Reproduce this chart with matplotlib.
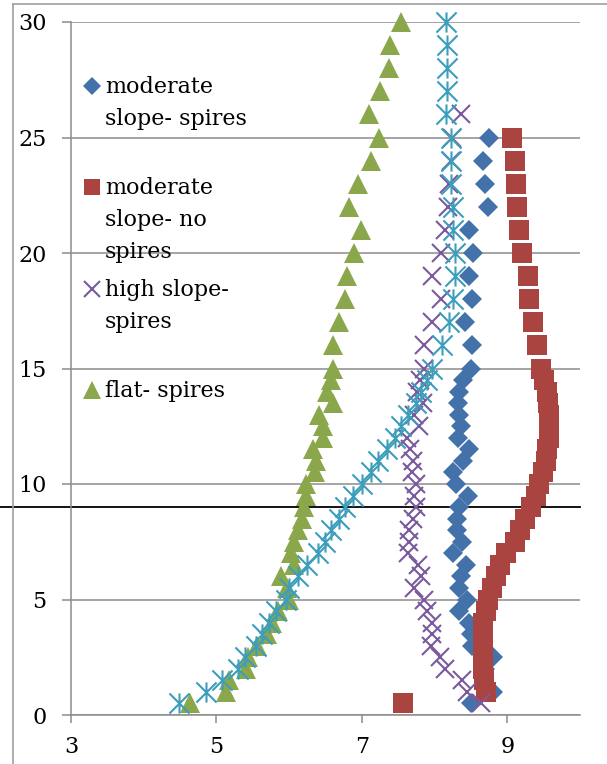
import matplotlib
matplotlib.use("Agg")
import matplotlib.pyplot as plt
from matplotlib.path import Path
from matplotlib.lines import Line2D

# ── data (depth on y, value on x) ─────────────────────────────────────────────
depth_40 = [0.5, 1, 1.5, 2, 2.5, 3, 3.5, 4, 4.5, 5, 5.5, 6, 6.5, 7, 7.5, 8, 8.5, 9,
            9.5, 10, 10.5, 11, 11.5, 12, 12.5, 13, 13.5, 14, 14.5, 15,
            16, 17, 18, 19, 20, 21, 22, 23, 24, 25]
depth_41 = depth_40 + [26]
depth_45 = depth_40 + [26, 27, 28, 29, 30]

mod_spires = [8.50, 8.80, 8.68, 8.70, 8.80, 8.52, 8.50, 8.47, 8.34, 8.44,
              8.34, 8.37, 8.43, 8.25, 8.38, 8.31, 8.31, 8.34, 8.46, 8.30,
              8.25, 8.39, 8.48, 8.32, 8.37, 8.34, 8.32, 8.34, 8.39, 8.50,
              8.52, 8.42, 8.51, 8.48, 8.53, 8.48, 8.73, 8.69, 8.66, 8.75]
mod_no_spires = [7.56, 8.71, 8.68, 8.66, 8.66, 8.66, 8.66, 8.66, 8.71, 8.74,
                 8.79, 8.85, 8.90, 8.98, 9.10, 9.18, 9.25, 9.33, 9.39, 9.44,
                 9.49, 9.53, 9.55, 9.57, 9.58, 9.57, 9.56, 9.54, 9.50, 9.46,
                 9.41, 9.36, 9.30, 9.28, 9.20, 9.16, 9.14, 9.12, 9.10, 9.06]
high_spires = [8.64, 8.45, 8.38, 8.15, 8.08, 7.95, 7.97, 7.97, 7.89, 7.86,
               7.72, 7.82, 7.77, 7.63, 7.65, 7.65, 7.70, 7.74, 7.72, 7.74,
               7.69, 7.70, 7.66, 7.62, 7.78, 7.72, 7.84, 7.76, 7.80, 7.86,
               7.86, 7.97, 8.09, 7.97, 8.09, 8.15, 8.18, 8.20, 8.23, 8.24, 8.37]
flat_spires = [4.64, 5.13, 5.17, 5.40, 5.44, 5.56, 5.70, 5.77, 5.84, 6.00,
               5.97, 5.89, 6.06, 6.02, 6.07, 6.12, 6.17, 6.20, 6.23, 6.23,
               6.35, 6.37, 6.33, 6.46, 6.46, 6.41, 6.60, 6.52, 6.58, 6.60,
               6.61, 6.69, 6.77, 6.80, 6.89, 6.99, 6.82, 6.95, 7.13, 7.24,
               7.10, 7.25, 7.38, 7.39, 7.54]
unlabelled = [4.48, 4.85, 5.08, 5.29, 5.39, 5.54, 5.63, 5.72, 5.82, 5.95,
              6.00, 6.12, 6.24, 6.40, 6.49, 6.58, 6.68, 6.77, 6.88, 7.00,
              7.12, 7.22, 7.34, 7.46, 7.54, 7.63, 7.75, 7.81, 7.89, 7.97,
              8.10, 8.20, 8.25, 8.28, 8.28, 8.26, 8.25, 8.23, 8.23, 8.22,
              8.16, 8.17, 8.17, 8.17, 8.16]

labels = ["moderate\nslope- spires", "moderate\nslope- no\nspires",
          "high slope-\nspires", "flat- spires"]
x_ticks = [3, 5, 7, 9]
y_ticks = [0, 5, 10, 15, 20, 25, 30]
ref_depth = 9

# ── style ─────────────────────────────────────────────────────────────────────
BLUE = "#4371AA"
RED = "#A94441"
PURPLE = "#7A5A9C"
GREEN = "#8BA74B"
CYAN = "#3C9EBB"
GRID = "#8C8C8C"

STAR = Path([(-1, -1), (1, 1), (-1, 1), (1, -1), (0, -1), (0, 1)],
            [Path.MOVETO, Path.LINETO] * 3)

plt.rcParams["font.family"] = ["DejaVu Serif"]
plt.rcParams["font.size"] = 16

W, H = 607, 764
fig = plt.figure(figsize=(W / 100, H / 100), dpi=100)
ax = fig.add_axes([71 / W, 49 / H, 509 / W, 693 / H])

styles = [
    (mod_spires, depth_40, dict(marker="D", ms=10.2, color=BLUE, mew=0)),
    (mod_no_spires, depth_40, dict(marker="s", ms=14.2, color=RED, mew=0)),
    (high_spires, depth_41, dict(marker="x", ms=13.5, color=PURPLE, mew=1.5)),
    (flat_spires, depth_45, dict(marker="^", ms=14.5, color=GREEN, mew=0)),
    (unlabelled, depth_45, dict(marker=STAR, ms=14.5, color=CYAN, mew=1.5)),
]
for xs, ys, kw in styles:
    ax.plot(xs, ys, linestyle="none", clip_on=False, **kw)

# reference line
ax.axhline(ref_depth, xmin=-71 / 509, xmax=1, color="black", lw=1.3,
           clip_on=False, zorder=1)

# ── axes ──────────────────────────────────────────────────────────────────────
ax.set_xlim(3, 10)
ax.set_ylim(0, 30)
ax.set_xticks(x_ticks)
ax.set_yticks(y_ticks)
ax.yaxis.grid(True, color=GRID, lw=1.1, zorder=0)
ax.set_axisbelow(True)
ax.spines[["top", "right"]].set_visible(False)
ax.spines[["left", "bottom"]].set_color(GRID)
ax.spines[["left", "bottom"]].set_linewidth(1.1)
ax.tick_params(axis="y", length=6.5, width=1.1, color=GRID, pad=11)
ax.tick_params(axis="x", length=6, width=1.1, color=GRID, pad=9)

# chart frame (cropped)
fig.add_artist(Line2D([13 / W, 13 / W], [0, 1 - 4 / H], color="#A0A0A0",
                      lw=1.2, transform=fig.transFigure))
fig.add_artist(Line2D([13 / W, 1], [1 - 4 / H, 1 - 4 / H], color="#A0A0A0",
                      lw=1.2, transform=fig.transFigure))

# ── legend, laid out like the original ───────────────────────────────────────
for i, (label, (_, _, kw)) in enumerate(zip(labels, styles)):
    base = 93 + 101.3 * i
    mk = dict(kw)
    mk["ms"] = kw["ms"] * 0.86
    fig.add_artist(Line2D([92 / W], [1 - (base - 7) / H], linestyle="none",
                          transform=fig.transFigure, **mk))
    for j, line in enumerate(label.split("\n")):
        fig.text(105 / W, 1 - (base + 32 * j) / H, line, va="baseline",
                 ha="left", fontsize=16)

fig.savefig("out.png", dpi=100)
